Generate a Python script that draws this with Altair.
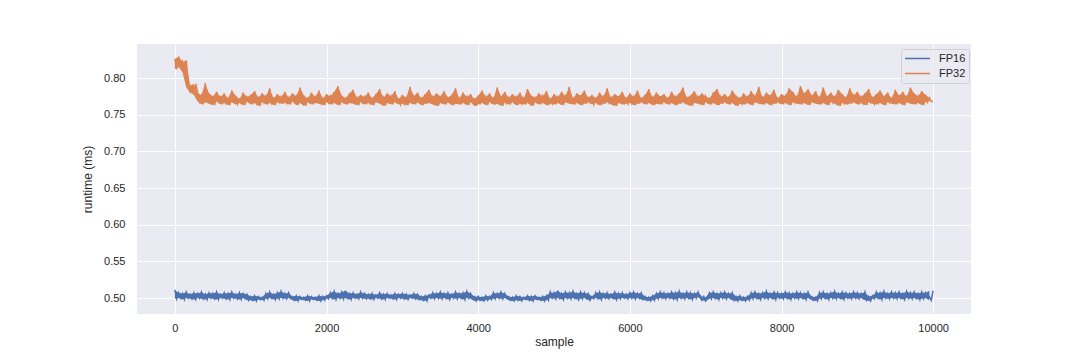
import altair as alt
import pandas as pd

# Runtime per sample in microseconds (every 25th sample, plus the last one)
fp16_us = [
    511, 499, 507, 500, 506, 498, 508, 500, 505, 499, 507, 498, 506, 500, 508, 499, 505, 498, 507, 500,
    506, 499, 508, 498, 505, 500, 507, 499, 506, 498, 508, 500, 505, 499, 507, 498, 506, 500, 505, 497,
    502, 497, 503, 496, 502, 498, 501, 497, 506, 499, 508, 500, 505, 498, 507, 499, 509, 500, 506, 499,
    507, 500, 502, 497, 503, 496, 502, 498, 501, 497, 503, 496, 502, 498, 501, 497, 503, 496, 502, 497,
    503, 499, 507, 500, 509, 498, 506, 500, 508, 499, 510, 500, 506, 498, 507, 500, 505, 499, 508, 500,
    506, 499, 505, 499, 506, 498, 504, 500, 507, 499, 505, 498, 506, 500, 504, 499, 506, 498, 505, 500,
    506, 499, 505, 498, 504, 500, 506, 499, 505, 498, 502, 497, 503, 496, 504, 500, 507, 499, 506, 500,
    508, 499, 506, 500, 507, 498, 505, 500, 508, 499, 506, 500, 507, 498, 509, 500, 506, 499, 502, 496,
    502, 497, 501, 496, 503, 497, 502, 498, 507, 499, 506, 500, 508, 499, 506, 500, 502, 497, 501, 496,
    503, 497, 502, 496, 501, 498, 503, 497, 502, 496, 503, 498, 501, 497, 502, 496, 503, 497, 508, 500,
    507, 499, 510, 500, 506, 498, 508, 500, 507, 499, 509, 500, 506, 498, 508, 499, 507, 500, 506, 497,
    502, 499, 507, 500, 508, 498, 506, 500, 507, 499, 505, 500, 508, 498, 506, 499, 507, 500, 505, 499,
    507, 500, 508, 499, 506, 500, 507, 498, 502, 497, 501, 496, 503, 497, 506, 499, 508, 500, 507, 499,
    506, 500, 508, 499, 507, 498, 509, 500, 506, 499, 508, 500, 507, 498, 506, 500, 508, 501, 497, 502,
    496, 501, 507, 499, 508, 500, 506, 498, 507, 500, 508, 499, 506, 500, 507, 497, 502, 496, 503, 497,
    501, 496, 502, 497, 507, 499, 508, 500, 506, 498, 507, 500, 509, 499, 506, 500, 508, 498, 507, 500,
    506, 499, 508, 500, 507, 498, 506, 500, 508, 499, 507, 500, 506, 498, 508, 500, 502, 497, 501, 496,
    507, 499, 508, 500, 506, 498, 507, 500, 509, 499, 506, 500, 508, 498, 507, 500, 506, 499, 508, 500,
    507, 499, 506, 500, 508, 497, 502, 496, 503, 499, 508, 500, 507, 498, 509, 500, 506, 499, 508, 500,
    507, 499, 508, 500, 506, 498, 509, 500, 507, 499, 508, 500, 506, 498, 508, 499, 507, 500, 502, 497,
    510,
]

fp32_us = [
    826, 812, 829, 815, 822, 808, 824, 787, 781, 790, 777, 792, 780, 768, 776, 764, 793, 767, 779, 765,
    775, 763, 781, 768, 774, 764, 779, 766, 772, 763, 783, 767, 776, 764, 771, 766, 780, 763, 774, 768,
    777, 764, 782, 766, 773, 762, 779, 767, 775, 764, 786, 766, 772, 763, 778, 767, 774, 765, 781, 766,
    773, 764, 779, 768, 775, 763, 787, 766, 776, 762, 772, 767, 780, 764, 774, 766, 783, 765, 772, 763,
    778, 767, 775, 764, 781, 766, 789, 763, 776, 767, 772, 764, 779, 766, 784, 765, 773, 763, 777, 767,
    774, 764, 780, 766, 772, 763, 778, 767, 785, 765, 773, 762, 779, 766, 775, 764, 782, 767, 771, 764,
    777, 765, 773, 763, 788, 766, 775, 764, 780, 767, 772, 763, 778, 765, 784, 766, 774, 764, 779, 762,
    775, 766, 782, 764, 773, 767, 777, 763, 786, 765, 772, 764, 780, 766, 774, 763, 778, 767, 771, 762,
    776, 764, 783, 766, 774, 763, 779, 767, 772, 764, 787, 765, 775, 762, 781, 766, 773, 764, 778, 767,
    774, 763, 780, 765, 772, 764, 785, 766, 776, 762, 773, 767, 779, 764, 775, 766, 782, 763, 771, 765,
    778, 764, 774, 766, 781, 763, 775, 767, 788, 765, 772, 764, 779, 766, 776, 763, 783, 765, 773, 767,
    777, 764, 772, 766, 780, 763, 774, 765, 786, 767, 773, 764, 778, 762, 775, 766, 781, 764, 772, 765,
    779, 766, 774, 763, 783, 765, 772, 767, 777, 764, 785, 766, 773, 763, 780, 765, 775, 764, 778, 767,
    772, 764, 781, 766, 774, 763, 779, 765, 787, 767, 773, 764, 776, 762, 782, 766, 774, 765, 779, 763,
    775, 767, 772, 764, 780, 766, 785, 763, 774, 765, 778, 767, 773, 764, 783, 766, 776, 762, 772, 765,
    779, 764, 774, 766, 782, 763, 775, 767, 788, 765, 773, 764, 780, 766, 776, 763, 784, 765, 772, 767,
    778, 764, 775, 766, 786, 763, 781, 767, 774, 765, 789, 764, 779, 766, 785, 763, 776, 767, 782, 765,
    773, 764, 787, 766, 775, 763, 780, 767, 774, 765, 784, 762, 778, 766, 773, 764, 786, 765, 776, 767,
    781, 764, 774, 766, 779, 763, 785, 767, 773, 765, 778, 764, 783, 766, 775, 763, 780, 767, 772, 765,
    784, 764, 776, 766, 781, 763, 774, 767, 787, 765, 779, 764, 775, 766, 782, 763, 777, 767, 773, 768,
    768,
]

sample_step = 25
last_sample = 9999
series_names = ["FP16", "FP32"]
series_colors = ["#4C72B0", "#DD8452"]
x_ticks = [0, 2000, 4000, 6000, 8000, 10000]
y_ticks = [0.50, 0.55, 0.60, 0.65, 0.70, 0.75, 0.80]

n = len(fp16_us)
samples = [i * sample_step for i in range(n - 1)] + [last_sample]

rows = []
for name, vals in zip(series_names, [fp16_us, fp32_us]):
    for s, v in zip(samples, vals):
        rows.append({"sample": s, "series": name, "runtime": v / 1000.0})
df = pd.DataFrame(rows)

x_scale = alt.Scale(domain=[-500, 10499], nice=False, zero=False)
x_axis = alt.Axis(values=x_ticks, format="d", title="sample", labelPadding=8, titlePadding=3)
y_scale = alt.Scale(domain=[0.4782, 0.8464], nice=False, zero=False)
y_axis = alt.Axis(values=y_ticks, format=".2f", title="runtime (ms)",
                  labelPadding=12, titlePadding=10, minExtent=33, maxExtent=33)
color_scale = alt.Scale(domain=series_names, range=series_colors)
legend = alt.Legend(
    title=None,
    orient="none",
    legendX=764,
    legendY=5,
    symbolType="stroke",
    symbolSize=625,
    symbolStrokeWidth=1.5,
    clipHeight=13,
    rowPadding=2,
    labelOffset=8,
    padding=3,
    labelFontSize=11,
    labelColor="#262626",
    fillColor="rgba(234,234,242,0.8)",
    strokeColor="#D0D0D6",
    cornerRadius=2,
)

base = alt.Chart(df)

# envelope of the noisy trace (min/max of each pair of readings), filled as a band
band = (
    base.transform_calculate(bucket="floor(datum.sample / 50) * 50")
    .transform_aggregate(lo="min(runtime)", hi="max(runtime)", groupby=["bucket", "series"])
    .mark_area(opacity=1, clip=True)
    .encode(
        x=alt.X("bucket:Q", scale=x_scale, axis=x_axis, title="sample"),
        y=alt.Y("lo:Q", scale=y_scale, axis=y_axis, title="runtime (ms)"),
        y2="hi:Q",
        color=alt.Color("series:N", scale=color_scale, legend=legend),
        detail="series:N",
    )
)

line = (
    base.mark_line(strokeWidth=1.5, clip=True)
    .encode(
        x=alt.X("sample:Q", scale=x_scale, axis=x_axis, title="sample"),
        y=alt.Y("runtime:Q", scale=y_scale, axis=y_axis, title="runtime (ms)"),
        color=alt.Color("series:N", scale=color_scale, legend=legend),
        detail="series:N",
    )
)

chart = (
    alt.layer(band, line)
    .properties(
        width=834,
        height=270,
        padding={"left": 73, "top": 36, "right": 5, "bottom": 5},
    )
    .configure(font="Liberation Sans")
    .configure_view(fill="#EAEAF2", stroke=None)
    .configure_axis(
        domain=False,
        ticks=False,
        grid=True,
        gridColor="#FFFFFF",
        gridWidth=1,
        labelColor="#262626",
        titleColor="#262626",
        labelFontSize=11,
        titleFontSize=12,
        titleFontWeight="normal",
        labelFont="Liberation Sans",
        titleFont="Liberation Sans",
    )
    .configure_legend(labelFont="Liberation Sans")
)

chart.save("out.html", embed_options={"renderer": "svg", "actions": False})
